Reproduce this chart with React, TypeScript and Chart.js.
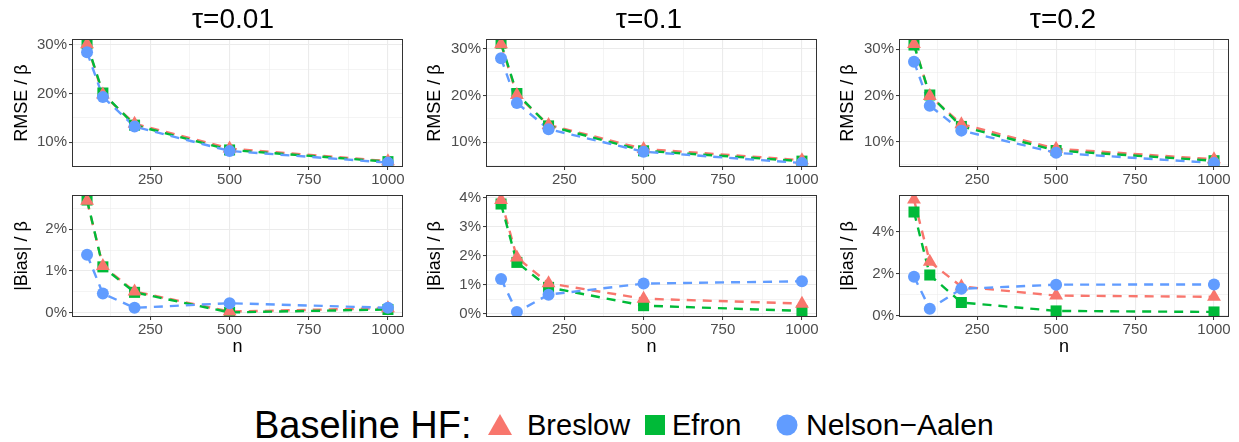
import React, { useEffect, useRef } from "react";
import { Chart, registerables } from "chart.js";

Chart.register(...registerables);

// ---------------- data ----------------
const nValues = [50, 100, 200, 500, 1000];
const xMajorTicks = [250, 500, 750, 1000];
const xMinorTicks = [125, 375, 625, 875];

const tauTitles = ["τ=0.01", "τ=0.1", "τ=0.2"];
const methodNames = ["Breslow", "Efron", "Nelson−Aalen"];

// RMSE / beta (%)
const rmseBreslow001 = [30.1, 19.8, 13.8, 8.7, 6.1];
const rmseEfron001 = [30.2, 20.1, 13.5, 8.4, 6.0];
const rmseNelson001 = [28.5, 19.3, 13.2, 8.2, 5.8];

const rmseBreslow01 = [30.9, 20.1, 13.7, 8.6, 6.2];
const rmseEfron01 = [31.1, 20.4, 13.5, 8.2, 6.0];
const rmseNelson01 = [27.9, 18.4, 12.8, 8.0, 5.6];

const rmseBreslow02 = [31.1, 19.9, 13.8, 8.5, 6.2];
const rmseEfron02 = [30.9, 20.1, 13.3, 8.1, 5.9];
const rmseNelson02 = [27.3, 17.8, 12.4, 7.6, 5.4];

// |Bias| / beta (%)
const biasBreslow001 = [2.68, 1.12, 0.51, 0.03, 0.11];
const biasEfron001 = [2.7, 1.1, 0.49, 0.01, 0.08];
const biasNelson001 = [1.39, 0.46, 0.12, 0.23, 0.12];

const biasBreslow01 = [3.92, 1.94, 1.05, 0.52, 0.35];
const biasEfron01 = [3.78, 1.77, 0.91, 0.28, 0.1];
const biasNelson01 = [1.2, 0.06, 0.66, 1.04, 1.12];

const biasBreslow02 = [5.53, 2.57, 1.39, 0.96, 0.9];
const biasEfron02 = [4.94, 1.94, 0.63, 0.23, 0.18];
const biasNelson02 = [1.86, 0.33, 1.28, 1.48, 1.49];

// y-axis ticks (%)
const rmseMajorTicks = [10, 20, 30];
const rmseMinorTicks = [5, 15, 25];
const biasMajorTicks001 = [0, 1, 2];
const biasMinorTicks001 = [0.5, 1.5, 2.5];
const biasMajorTicks01 = [0, 1, 2, 3, 4];
const biasMinorTicks01 = [0.5, 1.5, 2.5, 3.5];
const biasMajorTicks02 = [0, 2, 4];
const biasMinorTicks02 = [1, 3, 5];

// axis limits (%)
const rmseLimits001 = [4.9, 31.2];
const rmseLimits01 = [4.75, 32.0];
const rmseLimits02 = [4.54, 32.2];
const biasLimits001 = [-0.1, 2.82];
const biasLimits01 = [-0.11, 4.09];
const biasLimits02 = [-0.06, 5.75];
const xLimits = [2.5, 1047.5];

// ---------------- styling ----------------
const FONT = "'Liberation Sans', Arial, Helvetica, sans-serif";
const methodColors = ["#F8766D", "#00BA38", "#619CFF"];
const methodShapes = ["triangle", "rect", "circle"];
const methodRadii = [8, 7.8, 6];

const AXIS_W = 70;
const AXIS_H = 30;
const PAD_T = 10;
const PAD_R = 12;

const colLefts = [72, 486, 899];
const colWidths = [331, 331, 330];
const rowTops = [39, 195];
const rowHeights = [128, 122];

type PanelSpec = {
  col: number;
  row: number;
  limits: number[];
  major: number[];
  minor: number[];
  series: number[][];
};

const panelSpecs: PanelSpec[] = [
  { col: 0, row: 0, limits: rmseLimits001, major: rmseMajorTicks, minor: rmseMinorTicks, series: [rmseBreslow001, rmseEfron001, rmseNelson001] },
  { col: 1, row: 0, limits: rmseLimits01, major: rmseMajorTicks, minor: rmseMinorTicks, series: [rmseBreslow01, rmseEfron01, rmseNelson01] },
  { col: 2, row: 0, limits: rmseLimits02, major: rmseMajorTicks, minor: rmseMinorTicks, series: [rmseBreslow02, rmseEfron02, rmseNelson02] },
  { col: 0, row: 1, limits: biasLimits001, major: biasMajorTicks001, minor: biasMinorTicks001, series: [biasBreslow001, biasEfron001, biasNelson001] },
  { col: 1, row: 1, limits: biasLimits01, major: biasMajorTicks01, minor: biasMinorTicks01, series: [biasBreslow01, biasEfron01, biasNelson01] },
  { col: 2, row: 1, limits: biasLimits02, major: biasMajorTicks02, minor: biasMinorTicks02, series: [biasBreslow02, biasEfron02, biasNelson02] },
];

const borderPlugin = {
  id: "panelBorder",
  afterDraw(chart: any) {
    const { ctx, chartArea } = chart;
    ctx.save();
    ctx.strokeStyle = "#333333";
    ctx.lineWidth = 1;
    ctx.strokeRect(
      Math.round(chartArea.left) + 0.5,
      Math.round(chartArea.top) + 0.5,
      Math.round(chartArea.right - chartArea.left) - 1,
      Math.round(chartArea.bottom - chartArea.top) - 1
    );
    ctx.restore();
  },
};

function Panel({ spec }: { spec: PanelSpec }) {
  const ref = useRef<HTMLCanvasElement>(null);
  const pw = colWidths[spec.col];
  const ph = rowHeights[spec.row];
  const cw = pw + AXIS_W + PAD_R;
  const ch = ph + PAD_T + AXIS_H;

  useEffect(() => {
    if (!ref.current) return;
    const toPts = (vals: number[]) => nValues.map((n, i) => ({ x: n, y: vals[i] }));
    const lineSet = (m: number) => ({
      data: toPts(spec.series[m]),
      borderColor: methodColors[m],
      borderWidth: 2.4,
      borderDash: [9, 7],
      pointRadius: 0,
      fill: false,
      tension: 0,
    });
    const pointSet = (m: number) => ({
      data: toPts(spec.series[m]),
      showLine: false,
      pointStyle: methodShapes[m],
      pointRadius: methodRadii[m],
      pointBackgroundColor: methodColors[m],
      pointBorderColor: methodColors[m],
      pointBorderWidth: 0,
      backgroundColor: methodColors[m],
      borderColor: methodColors[m],
    });
    // first dataset is drawn on top
    const datasets = [pointSet(2), pointSet(0), pointSet(1), lineSet(2), lineSet(1), lineSet(0)];
    const xTicks = [...xMinorTicks, ...xMajorTicks].sort((a, b) => a - b);
    const yTicks = [...spec.minor, ...spec.major].sort((a, b) => a - b);
    const isXMajor = (v: number) => xMajorTicks.includes(v);
    const isYMajor = (v: number) => spec.major.includes(v);

    const chart = new Chart(ref.current, {
      type: "line",
      data: { datasets: datasets as any },
      options: {
        animation: false,
        responsive: false,
        events: [],
        layout: { autoPadding: false, padding: { top: PAD_T, right: PAD_R, left: 0, bottom: 0 } },
        plugins: { legend: { display: false }, tooltip: { enabled: false }, title: { display: false } },
        scales: {
          x: {
            type: "linear",
            min: xLimits[0],
            max: xLimits[1],
            border: { display: false },
            afterBuildTicks: (s: any) => {
              s.ticks = xTicks.map((v) => ({ value: v }));
            },
            afterFit: (s: any) => {
              s.height = AXIS_H;
              s.paddingLeft = 0;
              s.paddingRight = 0;
            },
            grid: {
              color: "#EBEBEB",
              lineWidth: (c: any) => (c.tick && isXMajor(c.tick.value) ? 1.1 : 0.55),
              drawTicks: true,
              tickLength: 3,
              tickWidth: 1,
              tickColor: (c: any) => (c.tick && isXMajor(c.tick.value) ? "#333333" : "rgba(0,0,0,0)"),
            },
            ticks: {
              autoSkip: false,
              maxRotation: 0,
              minRotation: 0,
              padding: 1,
              color: "#4D4D4D",
              font: { family: FONT, size: 15 },
              callback: (v: any) => (isXMajor(Number(v)) ? String(v) : ""),
            },
          },
          y: {
            type: "linear",
            min: spec.limits[0],
            max: spec.limits[1],
            border: { display: false },
            afterBuildTicks: (s: any) => {
              s.ticks = yTicks.map((v) => ({ value: v }));
            },
            afterFit: (s: any) => {
              s.width = AXIS_W;
              s.paddingTop = 0;
              s.paddingBottom = 0;
            },
            grid: {
              color: "#EBEBEB",
              lineWidth: (c: any) => (c.tick && isYMajor(c.tick.value) ? 1.1 : 0.55),
              drawTicks: true,
              tickLength: 3,
              tickWidth: 1,
              tickColor: (c: any) => (c.tick && isYMajor(c.tick.value) ? "#333333" : "rgba(0,0,0,0)"),
            },
            ticks: {
              autoSkip: false,
              padding: 2,
              color: "#4D4D4D",
              font: { family: FONT, size: 15 },
              callback: (v: any) => (isYMajor(Number(v)) ? `${v}%` : ""),
            },
          },
        },
      } as any,
      plugins: [borderPlugin],
    });
    return () => chart.destroy();
  }, []);

  return (
    <canvas
      ref={ref}
      width={cw}
      height={ch}
      style={{
        position: "absolute",
        left: colLefts[spec.col] - AXIS_W,
        top: rowTops[spec.row] - PAD_T,
        width: cw,
        height: ch,
      }}
    />
  );
}

const textBase: React.CSSProperties = {
  position: "absolute",
  fontFamily: FONT,
  color: "#000000",
  whiteSpace: "nowrap",
  lineHeight: 1,
};

function CenterText({ x, y, size, text, rotate }: { x: number; y: number; size: number; text: string; rotate?: boolean }) {
  return (
    <div
      style={{
        ...textBase,
        left: x,
        top: y,
        fontSize: size,
        transform: `translate(-50%, -50%)${rotate ? " rotate(-90deg)" : ""}`,
      }}
    >
      {text}
    </div>
  );
}

export default function App() {
  const yTitleX = [21, 434, 847];
  return (
    <div
      style={{
        position: "absolute",
        left: 0,
        top: 0,
        width: 1239,
        height: 442,
        background: "#ffffff",
        overflow: "hidden",
      }}
    >
      {panelSpecs.map((s, i) => (
        <Panel key={i} spec={s} />
      ))}
      {tauTitles.map((t, i) => (
        <CenterText key={"t" + i} x={[233, 649, 1063][i]} y={19} size={28} text={t} />
      ))}
      {[0, 1, 2].map((c) => (
        <CenterText key={"r" + c} x={yTitleX[c]} y={rowTops[0] + rowHeights[0] / 2} size={18} text="RMSE / β" rotate />
      ))}
      {[0, 1, 2].map((c) => (
        <CenterText key={"b" + c} x={yTitleX[c]} y={rowTops[1] + rowHeights[1] / 2} size={18} text="|Bias| / β" rotate />
      ))}
      {[0, 1, 2].map((c) => (
        <CenterText key={"n" + c} x={colLefts[c] + colWidths[c] / 2} y={346} size={18} text="n" />
      ))}
      {/* legend */}
      <div style={{ ...textBase, left: 254, top: 425, fontSize: 38, transform: "translateY(-50%)" }}>Baseline HF:</div>
      <svg style={{ position: "absolute", left: 487, top: 413 }} width={26} height={24}>
        <polygon points="13,1 25,22 1,22" fill={methodColors[0]} />
      </svg>
      <div style={{ ...textBase, left: 527, top: 425, fontSize: 29, transform: "translateY(-50%)" }}>{methodNames[0]}</div>
      <svg style={{ position: "absolute", left: 645, top: 415 }} width={20} height={20}>
        <rect x={0} y={0} width={20} height={20} fill={methodColors[1]} />
      </svg>
      <div style={{ ...textBase, left: 672, top: 425, fontSize: 29, transform: "translateY(-50%)" }}>{methodNames[1]}</div>
      <svg style={{ position: "absolute", left: 776, top: 414 }} width={22} height={22}>
        <circle cx={11} cy={11} r={10.5} fill={methodColors[2]} />
      </svg>
      <div style={{ ...textBase, left: 806, top: 425, fontSize: 30, transform: "translateY(-50%)" }}>{methodNames[2]}</div>
    </div>
  );
}
